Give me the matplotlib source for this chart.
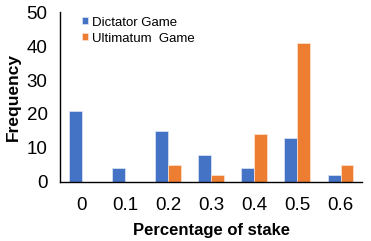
import numpy as np
import matplotlib
matplotlib.use('Agg')
from matplotlib import pyplot as plt

categories = ['0', '0.1', '0.2', '0.3', '0.4', '0.5', '0.6']
dictator = [21, 4, 15, 8, 4, 13, 2]
ultimatum = [0, 0, 5, 2, 14, 41, 5]

plt.rcParams['font.family'] = ['Liberation Sans', 'DejaVu Sans']

fig = plt.figure(figsize=(3.71, 2.41), dpi=100)
ax = fig.add_axes([0.162, 0.245, 0.814, 0.705])

x = np.arange(len(categories))
w = 0.3
ax.bar(x - w / 2, dictator, w, color='#4472C4', edgecolor='#dfe6f5', linewidth=0.5, label='Dictator Game')
ax.bar(x + w / 2, ultimatum, w, color='#ED7D31', edgecolor='#fbe3d4', linewidth=0.5, label='Ultimatum  Game')

ax.set_xlim(-0.5, len(categories) - 0.5)
ax.set_ylim(0, 50)
ax.set_yticks([0, 10, 20, 30, 40, 50])
ax.set_xticks(x)
ax.set_xticklabels(categories)
ax.tick_params(axis='both', length=0, labelsize=13.5, pad=9)
ax.tick_params(axis='x', pad=11)
ax.spines['top'].set_visible(False)
ax.spines['right'].set_visible(False)
ax.spines['left'].set_linewidth(1.0)
ax.spines['bottom'].set_linewidth(1.0)

ax.set_xlabel('Percentage of stake', fontsize=12, fontweight='bold', labelpad=6)
ax.set_ylabel('Frequency', fontsize=12.5, fontweight='bold', labelpad=4)

ax.legend(loc='upper left', frameon=False, fontsize=9.5, handlelength=0.45, handleheight=0.45,
          handletextpad=0.35, labelspacing=0.3, borderaxespad=0.2, bbox_to_anchor=(0.045, 1.02))

fig.savefig('out.png', dpi=100)
